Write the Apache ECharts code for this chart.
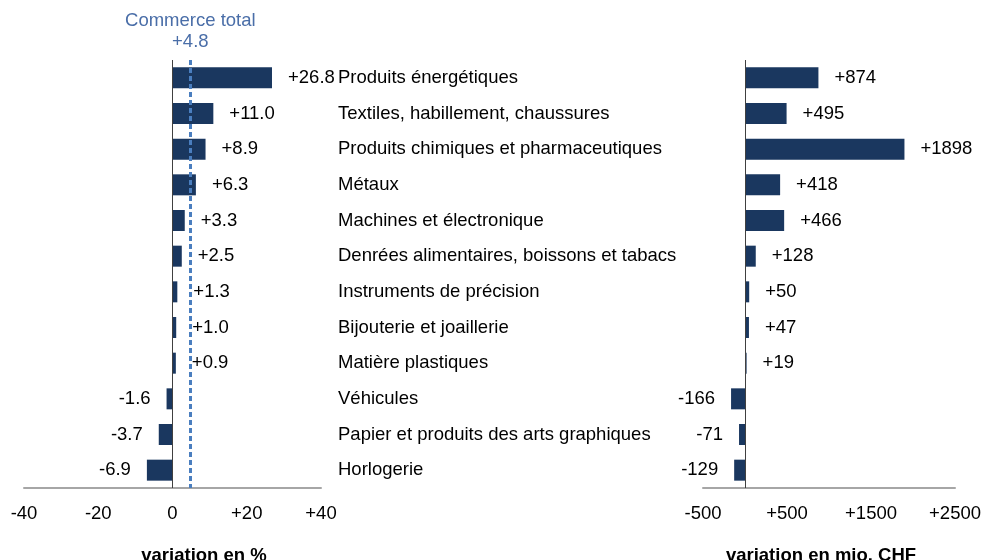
<!DOCTYPE html>
<html>
<head>
<meta charset="utf-8">
<script src="https://cdn.jsdelivr.net/npm/echarts@6/dist/echarts.min.js"></script>
<style>html,body{margin:0;padding:0;background:#fff}#c{width:984px;height:560px}</style>
</head>
<body>
<div id="c"></div>
<script>
var categories = [
  "Produits énergétiques",
  "Textiles, habillement, chaussures",
  "Produits chimiques et pharmaceutiques",
  "Métaux",
  "Machines et électronique",
  "Denrées alimentaires, boissons et tabacs",
  "Instruments de précision",
  "Bijouterie et joaillerie",
  "Matière plastiques",
  "Véhicules",
  "Papier et produits des arts graphiques",
  "Horlogerie"
];
var pctValues = [26.8, 11.0, 8.9, 6.3, 3.3, 2.5, 1.3, 1.0, 0.9, -1.6, -3.7, -6.9];
var chfValues = [874, 495, 1898, 418, 466, 128, 50, 47, 19, -166, -71, -129];
var totalPct = 4.8;
var totalLabel = "Commerce total";
var pctTicks = { min: -40, max: 40, interval: 20 };
var chfTicks = { min: -500, max: 2500, interval: 1000 };
var pctTitle = "variation en %";
var chfTitle = "variation en mio. CHF";

var FONT = "'Liberation Sans', Arial, sans-serif";
var FS = 18.5;
var BAR = "#1a375f";
function signed(v, d) { var s = d != null ? v.toFixed(d) : String(v); return v > 0 ? "+" + s : s; }
function items(vals, d) {
  return vals.map(function (v) {
    return { value: v, label: { position: v < 0 ? "left" : "right", formatter: signed(v, d) } };
  });
}

var chart = echarts.init(document.getElementById("c"), null, { renderer: "canvas" });
var xCommon = {
  type: "value",
  axisLine: { show: true, onZero: false, lineStyle: { color: "#a6a6a6", width: 2 } },
  axisTick: { show: false },
  splitLine: { show: false },
  axisLabel: { color: "#000", fontSize: FS, fontFamily: FONT, margin: 16, formatter: function (v) { return v > 0 ? "+" + v : String(v); } }
};
chart.setOption({
  animation: false,
  textStyle: { fontFamily: FONT },
  grid: [
    { left: 24, right: 663, top: 60, bottom: 72 },
    { left: 703, right: 27, top: 60, bottom: 72 }
  ],
  xAxis: [
    Object.assign({}, xCommon, { gridIndex: 0, min: pctTicks.min, max: pctTicks.max, interval: pctTicks.interval }),
    Object.assign({}, xCommon, { gridIndex: 1, min: chfTicks.min, max: chfTicks.max, interval: chfTicks.interval })
  ],
  yAxis: [
    { type: "category", gridIndex: 0, data: categories, inverse: true, position: "right",
      axisLine: { show: false, onZero: false }, axisTick: { show: false },
      axisLabel: { align: "left", margin: 17, color: "#000", fontSize: FS, fontFamily: FONT } },
    { type: "category", gridIndex: 1, data: categories, inverse: true,
      axisLine: { show: false, onZero: false }, axisTick: { show: false }, axisLabel: { show: false } }
  ],
  series: [
    { type: "bar", xAxisIndex: 0, yAxisIndex: 0, data: items(pctValues, 1), barWidth: 21,
      itemStyle: { color: BAR },
      label: { show: true, distance: 16, color: "#000", fontSize: FS, fontFamily: FONT },
      markLine: { silent: true, symbol: "none", animation: false,
        data: [
          { xAxis: 0, lineStyle: { color: "#404040", width: 1, type: "solid" }, label: { show: false } },
          { xAxis: totalPct, lineStyle: { color: "#4a7ebf", width: 3, type: [5, 3] },
            label: { show: true, position: "start", distance: 8, color: "#4a6ea8", fontSize: FS, lineHeight: 21, fontFamily: FONT,
              formatter: function () { return totalLabel + "\n" + signed(totalPct, 1); } } }
        ] } },
    { type: "bar", xAxisIndex: 1, yAxisIndex: 1, data: items(chfValues), barWidth: 21,
      itemStyle: { color: BAR },
      label: { show: true, distance: 16, color: "#000", fontSize: FS, fontFamily: FONT },
      markLine: { silent: true, symbol: "none", animation: false,
        data: [ { xAxis: 0, lineStyle: { color: "#404040", width: 1, type: "solid" }, label: { show: false } } ] } }
  ],
  graphic: [
    { type: "text", x: 204, y: 556, style: { text: pctTitle, font: "bold " + FS + "px " + FONT, fill: "#000", textAlign: "center", textVerticalAlign: "middle" } },
    { type: "text", x: 821, y: 556, style: { text: chfTitle, font: "bold " + FS + "px " + FONT, fill: "#000", textAlign: "center", textVerticalAlign: "middle" } }
  ]
});
</script>
</body>
</html>
